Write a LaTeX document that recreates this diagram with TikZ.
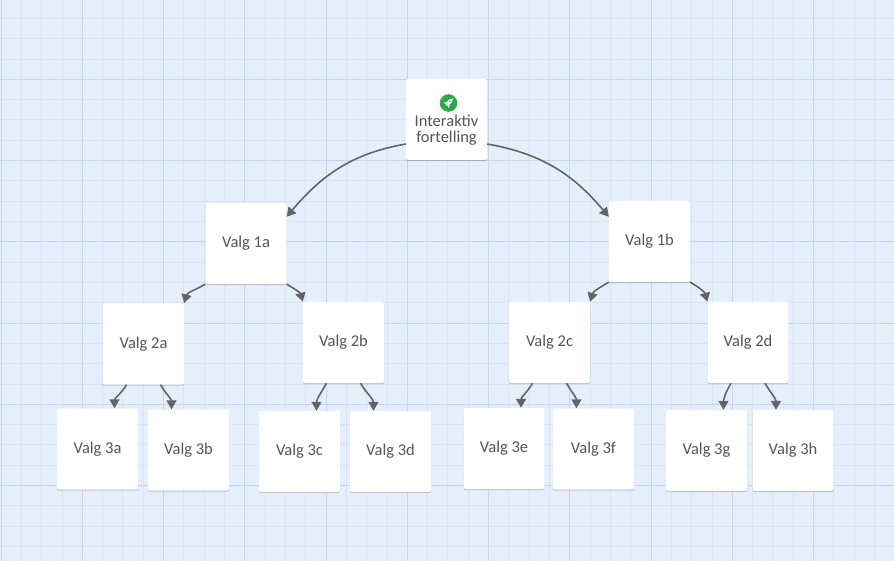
\documentclass[tikz,border=0pt]{standalone}
\usepackage{fontspec}
\setmainfont{Carlito}
\usetikzlibrary{arrows.meta,shadows}
\definecolor{bg}{RGB}{229,239,252}
\definecolor{gminor}{RGB}{213,228,246}
\definecolor{gmajor}{RGB}{194,215,238}
\definecolor{txt}{RGB}{85,85,85}
\definecolor{conncol}{RGB}{100,100,100}
\definecolor{rocketgreen}{RGB}{43,170,74}
\tikzset{
  box/.style={fill=white, rounded corners=2pt, minimum width=81pt, minimum height=81pt,
    inner sep=0pt, text=txt, font=\fontsize{16.5}{16}\selectfont,
    drop shadow={shadow xshift=0pt, shadow yshift=-1.2pt, opacity=0.18, fill=black}},
  lbl/.style={text=txt, font=\fontsize{16.5}{16}\selectfont, align=center, inner sep=0pt},
  conn/.style={draw=conncol, line width=1.6pt, -{Triangle[length=9pt,width=10pt]}},
  minorline/.style={draw=gminor, line width=0.8pt},
  majorline/.style={draw=gmajor, line width=1pt}
}
\begin{document}
\begin{tikzpicture}[x=1pt,y=1pt]
\useasboundingbox (0,0) rectangle (894,-561);
\fill[bg] (0,0) rectangle (894,-561);
% grid
\foreach \i in {0,...,44} {
  \draw[minorline] ({1+20.3125*\i},0) -- ++(0,-561);
}
\foreach \k in {0,...,28} {
  \draw[minorline] (0,{2-20.3125*\k}) -- ++(894,0);
}
\foreach \i in {0,...,11} {
  \draw[majorline] ({1+81.25*\i},0) -- ++(0,-561);
}
\foreach \k in {0,...,7} {
  \draw[majorline] (0,{2-81.25*\k}) -- ++(894,0);
}
% nodes
\node[box] (top) at (446.5,-119.5) {};
\node[lbl] (toplbl) at (446.5,-130.5) {Interaktiv\\fortelling};
\fill[rocketgreen] (448.5,-103) circle (8.8pt);
\begin{scope}[shift={(448.5,-103)}, rotate=-45, scale=1.1]
  \fill[white] (0,5.6) .. controls (2.2,3.4) and (2.1,0.2) .. (1.5,-1.8) -- (-1.5,-1.8) .. controls (-2.1,0.2) and (-2.2,3.4) .. (0,5.6) -- cycle;
  \fill[white] (-1.5,0) -- (-3.3,-3) -- (-1.2,-2.4) -- cycle;
  \fill[white] (1.5,0) -- (3.3,-3) -- (1.2,-2.4) -- cycle;
  \fill[white] (-0.8,-2) -- (0,-3.6) -- (0.8,-2) -- cycle;
  \fill[rocketgreen] (0,1.9) circle (0.8);
\end{scope}
\node[box] (v1a) at (246,-243.5) {Valg 1a};
\node[box] (v1b) at (649.5,-241.5) {Valg 1b};
\node[box] (v2a) at (143.5,-344) {Valg 2a};
\node[box] (v2b) at (343.5,-342.5) {Valg 2b};
\node[box] (v2c) at (549.5,-342.5) {Valg 2c};
\node[box] (v2d) at (748,-342.5) {Valg 2d};
\node[box] (v3a) at (97.5,-449) {Valg 3a};
\node[box] (v3b) at (188.5,-450) {Valg 3b};
\node[box] (v3c) at (299.5,-451.5) {Valg 3c};
\node[box] (v3d) at (390.5,-451.5) {Valg 3d};
\node[box] (v3e) at (504,-448.5) {Valg 3e};
\node[box] (v3f) at (593.5,-449) {Valg 3f};
\node[box] (v3g) at (706.5,-450.5) {Valg 3g};
\node[box] (v3h) at (793,-450.5) {Valg 3h};
% connectors
\draw[conn] ([yshift=-24.5pt]top.west) to[out=190,in=50] ([yshift=-14pt]v1a.north east);
\draw[conn] ([yshift=-24.5pt]top.east) to[out=-10,in=130] ([yshift=-16pt]v1b.north west);
\draw[conn] (v1a.south west) to[out=210,in=75] (v2a.north east);
\draw[conn] (v1a.south east) to[out=-30,in=105] (v2b.north west);
\draw[conn] (v1b.south west) to[out=210,in=75] (v2c.north east);
\draw[conn] (v1b.south east) to[out=-30,in=105] (v2d.north west);
\draw[conn] ([xshift=-17pt]v2a.south) to[out=240,in=90] ([xshift=17pt]v3a.north);
\draw[conn] ([xshift=17pt]v2a.south) to[out=-60,in=90] ([xshift=-17pt]v3b.north);
\draw[conn] ([xshift=-17pt]v2b.south) to[out=240,in=90] ([xshift=17pt]v3c.north);
\draw[conn] ([xshift=17pt]v2b.south) to[out=-60,in=90] ([xshift=-17pt]v3d.north);
\draw[conn] ([xshift=-17pt]v2c.south) to[out=240,in=90] ([xshift=17pt]v3e.north);
\draw[conn] ([xshift=17pt]v2c.south) to[out=-60,in=90] ([xshift=-17pt]v3f.north);
\draw[conn] ([xshift=-17pt]v2d.south) to[out=240,in=90] ([xshift=17pt]v3g.north);
\draw[conn] ([xshift=17pt]v2d.south) to[out=-60,in=90] ([xshift=-17pt]v3h.north);
\end{tikzpicture}
\end{document}
